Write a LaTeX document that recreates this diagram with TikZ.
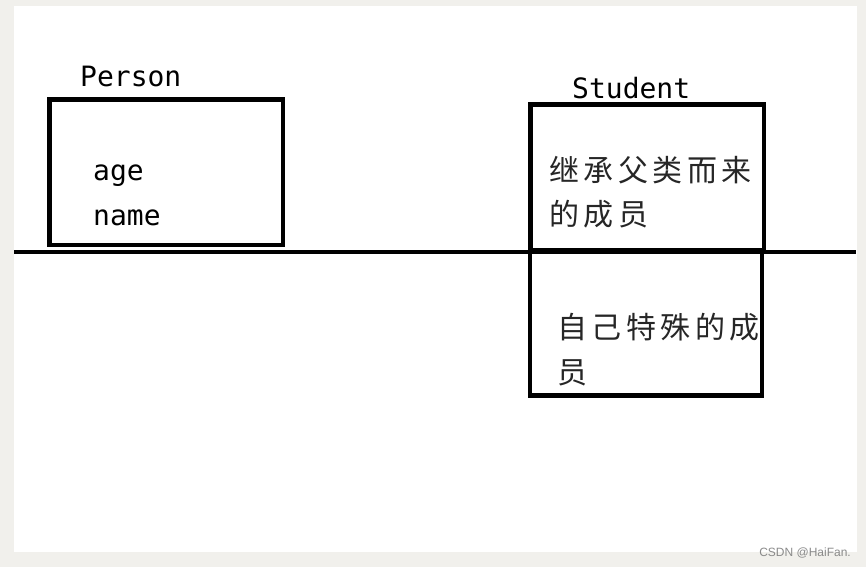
\documentclass[tikz,border=0pt]{standalone}
\usepackage{fontspec}
\newfontfamily\latinmono{DejaVu Sans Mono}
\newfontfamily\cjk[LetterSpace=15]{Noto Sans CJK SC}
\newfontfamily\wmfont{Liberation Sans}
\definecolor{framegray}{HTML}{F1F0EC}
\definecolor{wmgray}{HTML}{8A8A8A}
\tikzset{
  boxline/.style={draw=black, line width=4.5pt},
  latlabel/.style={anchor=base west, inner sep=0pt, font=\latinmono\fontsize{28}{30}\selectfont},
  cjklabel/.style={anchor=base west, inner sep=0pt, font=\cjk\fontsize{30}{32}\selectfont, text=black!85},
}
\begin{document}
\begin{tikzpicture}[x=1pt,y=-1pt]
\useasboundingbox (0,0) rectangle (866,567);
\fill[framegray] (0,0) rectangle (866,567);
\fill[white] (14,6) rectangle (857,552);
% horizontal divider
\coordinate (hl) at (14,252);
\coordinate (hr) at (856,252);
\draw[line width=4.5pt] (hl) -- (hr);
% Person box
\draw[boxline] (49.5,99.5) rectangle (283,245);
% Student boxes
\draw[boxline] (530.5,104.5) rectangle (764,250);
\draw[boxline] (530,252) rectangle (762,395.5);
% labels
\node[latlabel] (person) at (80,87) {Person};
\node[latlabel] (student) at (572,99) {Student};
\node[latlabel] (age) at (93,180) {age};
\node[latlabel] (name) at (93,225) {name};
\node[cjklabel] (inh1) at (549,181) {继承父类而来};
\node[cjklabel] (inh2) at (549,225) {的成员};
\node[cjklabel] (own1) at (557,338) {自己特殊的成};
\node[cjklabel] (own2) at (557,383) {员};
\node[anchor=base east, inner sep=0pt, text=wmgray, font=\wmfont\fontsize{12}{14}\selectfont] (wm) at (851,556) {CSDN @HaiFan.};
\end{tikzpicture}
\end{document}
